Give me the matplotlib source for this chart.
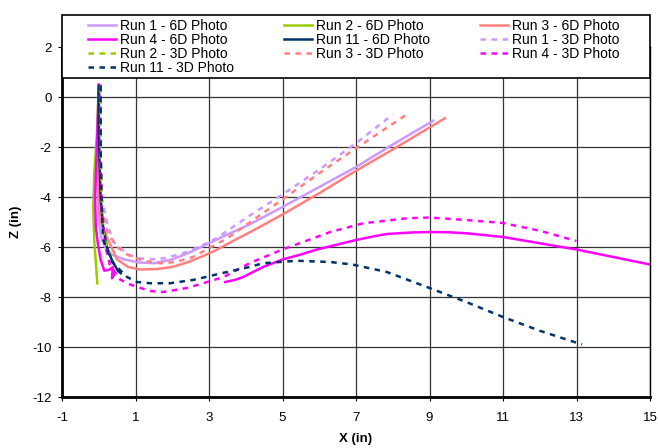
import numpy as np
import matplotlib
matplotlib.use("Agg")
import matplotlib.pyplot as plt
from matplotlib.patches import Rectangle
from matplotlib.legend import Legend

plt.rcParams['font.family'] = ['Liberation Sans', 'DejaVu Sans']
plt.rcParams['axes.unicode_minus'] = False

nan = np.nan

# Run 1 - 6D Photo
r1_6d_x = [0.02, 0.0, -0.02, 0.0, 0.05, 0.15, 0.35, 0.7, 1.1, 1.5, 2.0, 2.5, 3.0, 3.5, 4.1, 5.0, 6.0, 7.0, 8.0, 9.1]
r1_6d_y = [0.3, -1.5, -3.5, -4.8, -5.5, -5.95, -6.3, -6.5, -6.62, -6.65, -6.5, -6.2, -5.85, -5.5, -5.1, -4.4, -3.6, -2.8, -1.9, -0.95]
# Run 2 - 6D Photo
r2_6d_x = [0.0, -0.05, -0.12, -0.15, -0.12, -0.07, -0.04]
r2_6d_y = [0.3, -1.5, -3.0, -4.5, -5.8, -6.8, -7.45]
# Run 3 - 6D Photo
r3_6d_x = [0.0, -0.03, -0.02, 0.05, 0.22, 0.5, 0.8, 1.12, 1.6, 2.0, 2.4, 2.75, 3.2, 3.6, 4.1, 5.0, 6.0, 7.0, 8.0, 9.42]
r3_6d_y = [0.2, -2.0, -4.0, -5.0, -5.6, -6.5, -6.8, -6.9, -6.88, -6.8, -6.62, -6.42, -6.12, -5.8, -5.42, -4.7, -3.85, -2.95, -2.1, -0.85]
# Run 4 - 6D Photo
r4_6d_x = [0.0, -0.05, -0.1, -0.08, -0.02, 0.05, 0.15, 0.3, 0.38, 0.36, 0.42, nan,
           3.44, 3.7, 3.93, 4.2, 4.47, 5.0, 5.5, 5.94, 6.5, 7.0, 7.5, 7.84, 8.5, 9.0, 9.5,
           10.0, 11.0, 12.0, 13.0, 14.0, 15.0]
r4_6d_y = [0.5, -2.0, -4.0, -5.2, -5.9, -6.5, -6.95, -6.9, -6.8, -7.25, -7.1, nan,
           -7.4, -7.32, -7.2, -7.0, -6.8, -6.5, -6.3, -6.1, -5.9, -5.72, -5.57, -5.48, -5.42, -5.4, -5.41,
           -5.45, -5.6, -5.85, -6.1, -6.4, -6.7]
# Run 11 - 6D Photo
r11_6d_x = [0.0, 0.0, 0.02, 0.05, 0.12, 0.22, 0.35, 0.52, 0.6]
r11_6d_y = [0.45, -1.0, -2.5, -4.0, -5.2, -6.0, -6.5, -6.95, -7.05]
# Run 1 - 3D Photo
r1_3d_x = [0.05, 0.05, 0.08, 0.22, 0.4, 0.8, 1.1, 1.4, 1.8, 2.3, 2.8, 3.2, 3.65, 4.1, 5.0, 6.0, 7.0, 8.0]
r1_3d_y = [0.4, -2.0, -4.0, -5.0, -5.8, -6.3, -6.45, -6.5, -6.45, -6.25, -5.95, -5.65, -5.2, -4.75, -3.9, -2.9, -1.85, -0.7]
# Run 2 - 3D Photo
r2_3d_x = [0.05, 0.05, 0.08, 0.12, 0.2, 0.3]
r2_3d_y = [0.4, -2.0, -4.0, -5.3, -5.9, -6.3]
# Run 3 - 3D Photo
r3_3d_x = [0.05, 0.05, 0.08, 0.25, 0.5, 0.77, 1.2, 1.67, 2.1, 2.56, 3.0, 3.5, 3.93, 5.0, 6.0, 7.0, 8.44]
r3_3d_y = [0.45, -2.0, -4.5, -5.45, -6.0, -6.3, -6.55, -6.65, -6.6, -6.4, -6.05, -5.65, -5.2, -4.1, -3.05, -2.05, -0.64]
# Run 4 - 3D Photo
r4_3d_x = [0.05, 0.05, 0.08, 0.15, 0.3, 0.58, 0.85, 1.39, 1.75, 2.4, 2.95, 3.4, 4.1, 5.0, 6.3, 7.2, 8.4, 9.0, 10.0, 11.0, 12.0, 13.0]
r4_3d_y = [0.5, -2.0, -4.5, -5.8, -6.7, -7.3, -7.5, -7.76, -7.8, -7.64, -7.4, -7.2, -6.65, -6.1, -5.4, -5.05, -4.85, -4.82, -4.92, -5.04, -5.35, -5.76]
# Run 11 - 3D Photo
r11_3d_x = [0.05, 0.05, 0.07, 0.12, 0.36, 0.77, 1.04, 1.4, 1.94, 2.56, 3.49, 4.1, 4.47, 5.39, 6.3, 6.9, 7.84, 9.0, 10.0, 11.0, 12.0, 13.15]
r11_3d_y = [0.45, -2.0, -4.0, -5.7, -6.6, -7.2, -7.4, -7.45, -7.45, -7.32, -7.0, -6.8, -6.65, -6.55, -6.6, -6.7, -7.0, -7.64, -8.2, -8.8, -9.35, -9.9]

lavender = '#cc99ff'
green = '#99cc00'
salmon = '#ff8080'
magenta = '#ff00ff'
navy = '#003366'

fig = plt.figure(figsize=(6.58, 4.48), dpi=100)
ax = fig.add_axes([62/658, 1-397/448, 588/658, 350/448])

lw = 1.8
dash = (2.2, 2.2)
h = {}
h['r1_6d'], = ax.plot(r1_6d_x, r1_6d_y, color=lavender, lw=lw, label='Run 1 - 6D Photo')
h['r2_6d'], = ax.plot(r2_6d_x, r2_6d_y, color=green, lw=lw, label='Run 2 - 6D Photo')
h['r3_6d'], = ax.plot(r3_6d_x, r3_6d_y, color=salmon, lw=lw, label='Run 3 - 6D Photo')
h['r4_6d'], = ax.plot(r4_6d_x, r4_6d_y, color=magenta, lw=lw, label='Run 4 - 6D Photo')
h['r11_6d'], = ax.plot(r11_6d_x, r11_6d_y, color=navy, lw=lw, label='Run 11 - 6D Photo')
h['r1_3d'], = ax.plot(r1_3d_x, r1_3d_y, color=lavender, lw=lw, dashes=dash, label='Run 1 - 3D Photo')
h['r2_3d'], = ax.plot(r2_3d_x, r2_3d_y, color=green, lw=lw, dashes=dash, label='Run 2 - 3D Photo')
h['r3_3d'], = ax.plot(r3_3d_x, r3_3d_y, color=salmon, lw=lw, dashes=dash, label='Run 3 - 3D Photo')
h['r4_3d'], = ax.plot(r4_3d_x, r4_3d_y, color=magenta, lw=lw, dashes=dash, label='Run 4 - 3D Photo')
h['r11_3d'], = ax.plot(r11_3d_x, r11_3d_y, color=navy, lw=lw, dashes=dash, label='Run 11 - 3D Photo')

ax.set_xlim(-1, 15)
ax.set_ylim(-12, 2)
ax.set_xticks(np.arange(-1, 16, 2))
ax.set_yticks(np.arange(-12, 3, 2))
ax.grid(True, color='#333333', lw=0.9)
ax.set_axisbelow(True)
ax.tick_params(direction='out', length=3, labelsize=9.5, colors='black')
ax.tick_params(axis='x', pad=8)
ax.tick_params(axis='y', pad=4.5)
for s in ax.spines.values():
    s.set_color('black')
    s.set_linewidth(1.0)
ax.spines['left'].set_linewidth(2)
ax.spines['bottom'].set_linewidth(2)

ax.set_xlabel('X (in)', fontsize=9.5, fontweight='bold', labelpad=6)
ax.set_ylabel('Z (in)', fontsize=9.5, fontweight='bold', labelpad=7)

# legend box sticks out above the plot area, like Excel
frame = Rectangle((62/658, 1-78/448), 588/658, 63/448, transform=fig.transFigure,
                  facecolor='white', edgecolor='black', lw=1.2, clip_on=False, zorder=5)
ax.add_patch(frame)

# Excel fills rows first, so build each column on its own
columns = [['r1_6d', 'r4_6d', 'r2_3d', 'r11_3d'],
           ['r2_6d', 'r11_6d', 'r3_3d'],
           ['r3_6d', 'r1_3d', 'r4_3d']]
col_x = [88, 284, 480]
for keys, cx in zip(columns, col_x):
    leg = Legend(ax, [h[k] for k in keys], [h[k].get_label() for k in keys],
                 loc='upper left', bbox_to_anchor=(cx/658, 1-18.5/448),
                 bbox_transform=fig.transFigure, fontsize=10, frameon=False,
                 handlelength=2.0, handletextpad=0.3, labelspacing=0.0,
                 borderpad=0, borderaxespad=0)
    leg.set_zorder(6)
    ax.add_artist(leg)

fig.savefig('out.png', dpi=100)
